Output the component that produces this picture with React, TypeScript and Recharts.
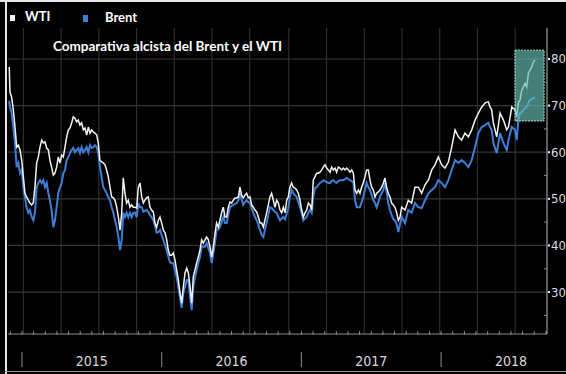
import { LineChart, Line, XAxis, YAxis, ReferenceLine, ReferenceArea } from 'recharts'

// fechas en años decimales
const dates = [
  2014.909, 2014.914, 2014.926, 2014.938, 2014.95, 2014.962, 2014.974, 2014.986, 2014.998, 2015.01,
  2015.021, 2015.033, 2015.045, 2015.057, 2015.069, 2015.081, 2015.093, 2015.105, 2015.117, 2015.129,
  2015.141, 2015.153, 2015.165, 2015.177, 2015.189, 2015.2, 2015.212, 2015.224, 2015.236, 2015.248,
  2015.26, 2015.272, 2015.284, 2015.296, 2015.308, 2015.32, 2015.332, 2015.344, 2015.356, 2015.367,
  2015.379, 2015.391, 2015.403, 2015.415, 2015.427, 2015.439, 2015.451, 2015.463, 2015.475, 2015.487,
  2015.499, 2015.511, 2015.523, 2015.535, 2015.546, 2015.558, 2015.57, 2015.582, 2015.594, 2015.606,
  2015.618, 2015.63, 2015.642, 2015.654, 2015.666, 2015.678, 2015.69, 2015.702, 2015.714, 2015.725,
  2015.737, 2015.749, 2015.761, 2015.773, 2015.785, 2015.797, 2015.809, 2015.821, 2015.833, 2015.845,
  2015.857, 2015.869, 2015.88, 2015.892, 2015.904, 2015.916, 2015.928, 2015.94, 2015.952, 2015.964,
  2015.976, 2015.988, 2016.0, 2016.012, 2016.024, 2016.036, 2016.047, 2016.059, 2016.071, 2016.083,
  2016.095, 2016.107, 2016.119, 2016.131, 2016.143, 2016.155, 2016.167, 2016.179, 2016.191, 2016.203,
  2016.215, 2016.226, 2016.238, 2016.25, 2016.262, 2016.274, 2016.286, 2016.298, 2016.31, 2016.322,
  2016.334, 2016.346, 2016.358, 2016.37, 2016.382, 2016.393, 2016.405, 2016.417, 2016.429, 2016.441,
  2016.453, 2016.465, 2016.477, 2016.489, 2016.501, 2016.513, 2016.525, 2016.537, 2016.549, 2016.56,
  2016.572, 2016.584, 2016.596, 2016.608, 2016.62, 2016.632, 2016.644, 2016.656, 2016.668, 2016.68,
  2016.692, 2016.704, 2016.716, 2016.728, 2016.739, 2016.751, 2016.763, 2016.775, 2016.787, 2016.799,
  2016.811, 2016.823, 2016.835, 2016.847, 2016.859, 2016.871, 2016.883, 2016.895, 2016.906, 2016.918,
  2016.93, 2016.942, 2016.954, 2016.966, 2016.978, 2016.99, 2017.002, 2017.014, 2017.026, 2017.038,
  2017.05, 2017.062, 2017.074, 2017.085, 2017.097, 2017.109, 2017.121, 2017.133, 2017.145, 2017.157,
  2017.169, 2017.181, 2017.193, 2017.205, 2017.217, 2017.229, 2017.241, 2017.252, 2017.264, 2017.276,
  2017.288, 2017.3, 2017.312, 2017.324, 2017.336, 2017.348, 2017.36, 2017.372, 2017.384, 2017.396,
  2017.408, 2017.419, 2017.431, 2017.443, 2017.455, 2017.467, 2017.479, 2017.491, 2017.503, 2017.515,
  2017.527, 2017.539, 2017.551, 2017.563, 2017.575, 2017.587, 2017.598, 2017.61, 2017.622, 2017.634,
  2017.646, 2017.658, 2017.67, 2017.682, 2017.694, 2017.706, 2017.718, 2017.742, 2017.765, 2017.789,
  2017.813, 2017.837, 2017.861, 2017.885, 2017.909, 2017.933, 2017.956, 2017.98, 2018.004, 2018.028,
  2018.052, 2018.076, 2018.1, 2018.124, 2018.147, 2018.171, 2018.195, 2018.219, 2018.243, 2018.267,
  2018.291, 2018.315, 2018.338, 2018.35, 2018.362, 2018.374, 2018.398, 2018.422, 2018.446, 2018.47,
  2018.482, 2018.506, 2018.529, 2018.541, 2018.553, 2018.565, 2018.577, 2018.589, 2018.601, 2018.613,
  2018.625, 2018.637, 2018.649, 2018.661, 2018.673,
]

const wti = [
  78.3, 72.9, 71.8, 69.1, 65.4, 61.1, 61.5, 60.5, 58.3, 54.7,
  51.2, 50.4, 49.7, 49.1, 48.7, 49.1, 52.5, 57.7, 59.0, 61.1,
  62.6, 62.0, 62.2, 60.9, 60.5, 58.3, 56.8, 55.1, 55.5, 56.8,
  59.0, 57.7, 59.4, 59.0, 61.1, 63.3, 64.8, 65.2, 66.3, 67.6,
  67.3, 66.5, 66.9, 65.8, 66.3, 64.8, 65.2, 63.7, 65.4, 64.1,
  64.8, 64.3, 64.1, 63.7, 62.0, 58.3, 57.9, 57.7, 57.3, 56.2,
  54.7, 52.5, 50.4, 50.2, 49.7, 48.2, 46.1, 43.3, 47.0, 54.5,
  51.2, 49.1, 49.7, 48.2, 48.7, 48.2, 48.2, 48.0, 52.5, 53.4,
  50.4, 49.1, 49.7, 50.2, 50.4, 48.2, 47.6, 47.2, 44.8, 43.9,
  45.4, 46.1, 44.8, 43.3, 42.7, 41.2, 39.0, 37.9, 37.9, 38.4,
  36.9, 34.7, 32.6, 29.8, 27.6, 31.1, 34.1, 35.1, 34.1, 31.1,
  27.6, 33.2, 34.7, 36.2, 37.5, 39.0, 41.2, 40.5, 41.2, 41.8,
  41.2, 39.7, 37.5, 39.7, 42.7, 44.8, 43.9, 45.4, 47.0, 48.2,
  46.1, 46.1, 48.2, 49.3, 49.1, 49.7, 50.2, 50.2, 50.4, 52.5,
  50.8, 50.2, 50.8, 51.2, 50.2, 50.4, 48.7, 48.2, 47.6, 47.2,
  46.1, 44.8, 44.8, 43.9, 45.4, 47.0, 48.7, 50.4, 51.2, 49.7,
  48.2, 49.7, 49.1, 47.6, 47.0, 48.2, 47.0, 49.7, 50.4, 52.5,
  53.4, 52.5, 52.3, 51.9, 51.2, 49.7, 47.6, 46.1, 47.0, 47.6,
  49.1, 48.7, 47.6, 54.0, 54.7, 55.5, 55.5, 55.7, 56.2, 56.8,
  57.3, 56.6, 56.2, 55.7, 56.8, 56.2, 56.6, 55.7, 56.8, 56.6,
  56.2, 56.6, 56.2, 56.6, 56.2, 55.7, 56.2, 55.5, 51.9, 51.2,
  51.9, 51.2, 52.5, 53.4, 54.7, 56.2, 56.2, 54.0, 52.5, 51.9,
  50.4, 51.2, 51.5, 51.9, 52.5, 53.4, 54.5, 52.5, 51.2, 50.4,
  49.1, 48.7, 48.2, 47.0, 45.4, 46.1, 48.2, 47.6, 49.7, 49.1,
  52.5, 52.5, 51.2, 53.0, 54.0, 56.2, 57.3, 59.0, 57.3, 56.6,
  57.9, 61.1, 64.8, 63.3, 62.6, 64.1, 63.3, 64.8, 66.9, 68.4,
  69.7, 70.6, 70.8, 69.7, 69.1, 66.3, 63.3, 68.4, 66.9, 64.8,
  65.4, 69.7, 69.1, 67.6, 70.6, 71.2, 73.3, 74.0, 74.8, 74.0,
  77.0, 77.6, 78.3, 79.4, 79.8,
]

const brent = [
  71.0, 69.7, 68.4, 65.4, 62.0, 56.8, 57.7, 55.5, 56.2, 52.5,
  50.4, 48.2, 47.0, 47.6, 46.1, 45.4, 47.0, 52.5, 53.4, 54.0,
  53.4, 54.0, 52.5, 53.4, 51.2, 49.7, 47.6, 43.9, 45.4, 48.2,
  51.2, 52.5, 53.4, 55.5, 56.2, 58.3, 59.0, 59.8, 60.5, 60.9,
  60.0, 60.5, 60.9, 59.8, 61.1, 60.0, 60.5, 61.1, 60.0, 61.5,
  60.9, 61.1, 61.5, 61.1, 59.8, 56.8, 54.7, 52.5, 51.9, 51.2,
  50.4, 49.7, 48.2, 47.0, 45.4, 43.9, 41.8, 39.0, 41.2, 47.0,
  46.1, 47.0, 46.1, 47.0, 46.1, 47.0, 47.0, 46.1, 49.1, 48.2,
  48.2, 47.2, 47.4, 47.6, 47.2, 46.5, 46.1, 45.4, 44.2, 42.7,
  42.9, 43.3, 42.2, 41.2, 40.1, 39.0, 37.7, 36.4, 36.2, 36.2,
  34.7, 33.2, 31.1, 28.9, 26.6, 29.8, 31.1, 32.6, 32.6, 28.9,
  26.1, 31.1, 33.0, 34.7, 36.2, 37.5, 39.7, 39.7, 39.7, 40.5,
  39.4, 38.4, 36.2, 38.4, 40.7, 43.3, 43.5, 43.9, 45.0, 46.1,
  44.8, 44.8, 46.5, 48.2, 48.5, 48.7, 48.9, 49.1, 49.6, 51.2,
  49.9, 48.7, 49.3, 49.7, 49.3, 49.1, 48.0, 47.0, 46.1, 45.4,
  44.4, 43.3, 42.2, 41.8, 43.3, 44.8, 46.5, 48.2, 48.0, 47.6,
  47.2, 47.0, 46.1, 45.4, 45.8, 46.1, 45.6, 46.8, 48.0, 50.4,
  51.9, 51.2, 50.8, 50.4, 49.3, 48.2, 47.0, 45.4, 45.8, 46.1,
  47.0, 47.6, 47.0, 50.4, 52.3, 52.5, 53.0, 53.4, 53.6, 54.0,
  53.8, 53.6, 53.4, 53.4, 53.8, 54.0, 53.6, 53.4, 53.8, 54.0,
  54.0, 54.0, 54.2, 54.5, 54.2, 54.0, 53.8, 53.6, 49.7, 48.2,
  48.2, 48.2, 49.3, 50.4, 51.9, 53.4, 52.5, 51.9, 50.8, 49.7,
  49.1, 48.2, 49.3, 50.4, 51.2, 51.9, 53.4, 51.5, 49.1, 47.6,
  46.5, 45.6, 45.4, 44.6, 42.9, 44.6, 46.1, 44.8, 47.6, 47.0,
  49.1, 48.2, 48.0, 49.7, 51.2, 51.9, 52.5, 54.0, 53.4, 52.5,
  54.0, 56.2, 58.3, 57.7, 58.3, 57.7, 56.8, 58.3, 61.1, 64.1,
  65.4, 65.8, 66.3, 65.4, 64.8, 62.0, 59.8, 64.1, 62.0, 60.5,
  62.6, 65.4, 64.8, 62.6, 66.9, 68.4, 68.6, 69.1, 69.5, 69.7,
  70.6, 71.2, 71.4, 71.6, 71.8,
]

const yearStarts = [2015, 2016, 2017, 2018]
const gridDates = [
  2015.01, 2015.28, 2015.55, 2015.82, 2016.09, 2016.36, 2016.63,
  2016.91, 2017.18, 2017.45, 2017.72, 2017.99, 2018.26, 2018.53,
]
const gridPrices = [30, 40, 50, 60, 70, 80]
const priceTicks = [25, 30, 35, 40, 45, 50, 55, 60, 65, 70, 75, 80]
// recuadro del último tramo alcista
const highlight = { x1: 2018.529, x2: 2018.737, y1: 66.7, y2: 81.9 }

const data = dates.map((t, i) => ({ t, wti: wti[i], brent: brent[i] }))

// marcas mensuales
const monthTicks: number[] = []
for (let i = 0; i <= 46; i++) monthTicks.push(2014 + 11 / 12 + i / 12)

const axisFont = '"Liberation Sans Narrow", "DejaVu Sans Condensed", sans-serif'

function DateTick(props: any) {
  const { x, y, payload } = props
  const k = Math.round((payload.value - 2014) * 12)
  const month = ((k % 12) + 12) % 12
  const year = 2014 + Math.floor(k / 12)
  return (
    <g>
      <line x1={x} x2={x} y1={y - 3} y2={y + 1} stroke="#8a8a8a" />
      {month === 0 && yearStarts.includes(year) && (
        <line x1={x} x2={x} y1={y + 18} y2={y + 33} stroke="#777" strokeWidth={1.2} />
      )}
      {month === 6 && (
        <text x={x} y={y + 32} textAnchor="middle" fill="#d8d8d8" fontSize={14} fontFamily={axisFont}>
          {year}
        </text>
      )}
    </g>
  )
}

function PriceTick(props: any) {
  const { x, y, payload } = props
  const v = payload.value
  if (v % 10 !== 0) {
    return <line x1={x - 3} x2={x} y1={y} y2={y} stroke="#888" />
  }
  return (
    <g>
      <rect x={x + 1} y={y - 1} width={2} height={2} fill="#eee" />
      <text x={x + 4} y={y + 4.5} fill="#dcdcdc" fontSize={13} fontFamily={axisFont}>
        {v}
      </text>
    </g>
  )
}

export default function App() {
  return (
    <div
      style={{
        position: 'absolute',
        left: 0,
        top: 0,
        width: 566,
        height: 374,
        background: '#000',
        overflow: 'hidden',
        fontFamily: 'Lato, "Open Sans", sans-serif',
      }}
    >
      <LineChart width={566} height={374} data={data} margin={{ top: 28, right: 0, bottom: 0, left: 8 }}>
        {gridDates.map((d) => (
          <ReferenceLine key={'gx' + d} x={d} stroke="#2e2e2e" strokeWidth={1.2} />
        ))}
        {gridPrices.map((p) => (
          <ReferenceLine key={'gy' + p} y={p} stroke="#363636" strokeWidth={1.2} />
        ))}
        <XAxis
          dataKey="t"
          type="number"
          domain={[2014.9, 2018.758]}
          ticks={monthTicks}
          interval={0}
          tickSize={0}
          tickMargin={0}
          tickLine={false}
          axisLine={{ stroke: '#8a8a8a' }}
          tick={<DateTick />}
          height={40}
          allowDataOverflow
        />
        <YAxis
          orientation="right"
          type="number"
          domain={[21, 86.65]}
          ticks={priceTicks}
          interval={0}
          tickSize={0}
          tickMargin={0}
          tickLine={false}
          axisLine={{ stroke: '#bbb' }}
          tick={<PriceTick />}
          width={19}
          allowDataOverflow
        />
        <Line
          type="linear"
          dataKey="brent"
          stroke="#3d7fd6"
          strokeWidth={2}
          dot={false}
          isAnimationActive={false}
        />
        <Line
          type="linear"
          dataKey="wti"
          stroke="#f2f2f2"
          strokeWidth={1.5}
          dot={false}
          isAnimationActive={false}
        />
        <ReferenceArea
          x1={highlight.x1}
          x2={highlight.x2}
          y1={highlight.y1}
          y2={highlight.y2}
          fill="#66b8b0"
          fillOpacity={0.68}
          stroke="#a6dcd6"
          strokeDasharray="2 1"
          zIndex={1500}
        />
      </LineChart>

      {/* marco */}
      <div style={{ position: 'absolute', left: 0, top: 0, width: 566, height: 2, background: '#e6e6e6' }} />
      <div style={{ position: 'absolute', left: 5, top: 0, width: 2, height: 374, background: '#e6e6e6' }} />
      <div style={{ position: 'absolute', left: 5, top: 371, width: 561, height: 1, background: '#9a9a9a' }} />

      {/* leyenda */}
      <div style={{ position: 'absolute', left: 10, top: 15, width: 5, height: 6, background: '#f2f2f2' }} />
      <div
        style={{ position: 'absolute', left: 25, top: 8, color: '#fff', fontWeight: 700, fontSize: 13, lineHeight: '16px' }}
      >
        WTI
      </div>
      <div style={{ position: 'absolute', left: 83, top: 15, width: 5, height: 7, background: '#3d7fd6' }} />
      <div
        style={{ position: 'absolute', left: 105, top: 9, color: '#fff', fontWeight: 700, fontSize: 13, lineHeight: '16px' }}
      >
        Brent
      </div>
      <div
        style={{ position: 'absolute', left: 53, top: 38, color: '#fff', fontWeight: 700, fontSize: 13.5, lineHeight: '16px' }}
      >
        Comparativa alcista del Brent y el WTI
      </div>
    </div>
  )
}
